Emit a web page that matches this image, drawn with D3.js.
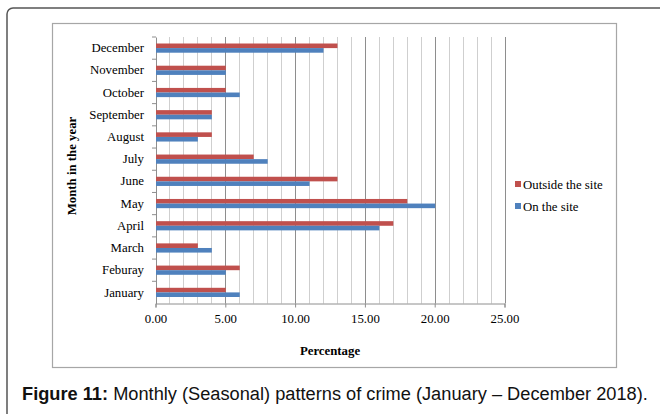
<!DOCTYPE html>
<html><head><meta charset="utf-8">
<script src="https://cdn.jsdelivr.net/npm/d3@7"></script>
<style>body{margin:0;background:#fff}svg{display:block}</style>
</head><body>
<svg id="c" width="660" height="414"></svg>
<script>
const months = ["January","Feburay","March","April","May","June","July","August","September","October","November","December"];
const outsideSite = [5,6,3,17,18,13,7,4,4,5,5,13];
const onSite = [6,5,4,16,20,11,8,3,4,6,5,12];
const seriesNames = ["Outside the site","On the site"];
const seriesColors = ["#C0504D","#4F81BD"];
const xTicks = [0,5,10,15,20,25];

const svg = d3.select("#c");
// outer figure frame
svg.append("rect").attr("x",7).attr("y",8).attr("width",720).attr("height",500).attr("rx",6)
  .attr("fill","none").attr("stroke","#555").attr("stroke-width",1.5);
// chart box
svg.append("rect").attr("x",52.5).attr("y",23.5).attr("width",564).attr("height",344)
  .attr("fill","#fff").attr("stroke","#a6a6a6").attr("stroke-width",1.2);

const x = d3.scaleLinear().domain([0,25]).range([155.5,504.5]);
const y = d3.scaleBand().domain(months.slice().reverse()).range([37,303.5]);
const inner = d3.scaleBand().domain([0,1]).range([-4.6,4.6]);

// gridlines
const g = svg.append("g");
g.selectAll("line.minor").data(d3.range(1,26)).join("line")
  .attr("x1",d=>Math.round(x(d))+0.5).attr("x2",d=>Math.round(x(d))+0.5)
  .attr("y1",37).attr("y2",303.5)
  .attr("stroke",d=>d%5===0?"#8e8e8e":"#cfcfcf").attr("stroke-width",1);

// axes
const xAxis = d3.axisBottom(x).tickValues(xTicks).tickFormat(d3.format(".2f")).tickSize(4);
const xa = svg.append("g").attr("transform","translate(0,303.5)").call(xAxis);
xa.select(".domain").attr("stroke","#8e8e8e");
xa.selectAll(".tick line").attr("stroke","#8e8e8e");
xa.selectAll("text").attr("font-family","Liberation Serif").attr("font-size",12.8).attr("fill","#000").attr("dy","0.95em");

const yAxis = d3.axisLeft(y).tickSize(0).tickPadding(12);
const ya = svg.append("g").attr("transform","translate(156,0)").call(yAxis);
ya.select(".domain").attr("stroke","#8e8e8e");
ya.selectAll("text").attr("font-family","Liberation Serif").attr("font-size",12.8).attr("fill","#000");
// y category separator ticks
svg.append("g").selectAll("line").data(months).join("line")
  .attr("x1",152).attr("x2",156).attr("y1",d=>y(d)).attr("y2",d=>y(d)).attr("stroke","#8e8e8e");

// bars
const series = [outsideSite, onSite];
series.forEach((vals,si)=>{
  svg.append("g").selectAll("rect").data(months).join("rect")
    .attr("x",x(0)+0.5)
    .attr("y",(d)=>y(d)+y.bandwidth()/2+inner(si))
    .attr("height",inner.bandwidth())
    .attr("width",(d,i)=>x(vals[i])-x(0))
    .attr("fill",seriesColors[si]);
});

// axis titles
svg.append("text").attr("x",330).attr("y",355).attr("text-anchor","middle")
  .attr("font-family","Liberation Serif").attr("font-weight","bold").attr("font-size",12.8).text("Percentage");
svg.append("text").attr("transform","translate(76,166) rotate(-90)").attr("text-anchor","middle")
  .attr("font-family","Liberation Serif").attr("font-weight","bold").attr("font-size",12.8).text("Month in the year");

// legend
const lg = svg.append("g");
seriesNames.forEach((n,i)=>{
  const yy = 184 + i*22;
  lg.append("rect").attr("x",515).attr("y",yy-3).attr("width",6).attr("height",6).attr("fill",seriesColors[i]);
  lg.append("text").attr("x",523).attr("y",yy+4.5).attr("font-family","Liberation Serif").attr("font-size",12.8).text(n);
});

// caption
const cap = svg.append("text").attr("x",0).attr("y",0).attr("font-family","Liberation Sans").attr("font-size",18).attr("fill","#111");
cap.append("tspan").attr("font-weight","bold").text("Figure 11:");
cap.append("tspan").text(" Monthly (Seasonal) patterns of crime (January – December 2018).");
const w = cap.node().getComputedTextLength();
cap.attr("transform",`translate(22,400) scale(${626/w},1)`);
</script>
</body></html>
